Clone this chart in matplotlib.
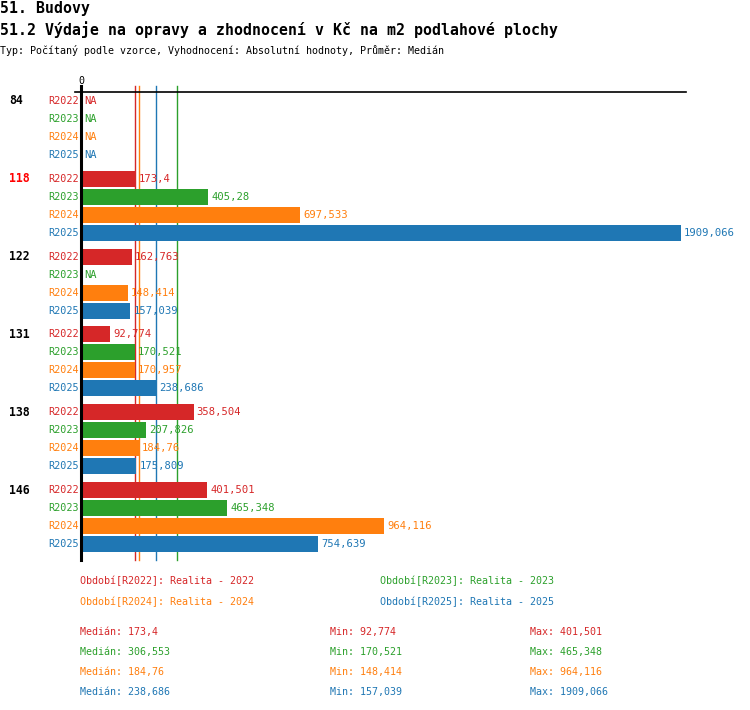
import numpy as np
import matplotlib
matplotlib.use("Agg")
import matplotlib.pyplot as plt

plt.rcParams['font.family'] = ['DejaVu Sans Mono']

# data
groups = ["84", "118", "122", "131", "138", "146"]
periods = ["R2022", "R2023", "R2024", "R2025"]
period_names = ["Realita - 2022", "Realita - 2023", "Realita - 2024", "Realita - 2025"]
colors = ["#d62728", "#2ca02c", "#ff7f0e", "#1f77b4"]
highlight = "118"

r2022 = [None, 173.4, 162.763, 92.774, 358.504, 401.501]
r2023 = [None, 405.28, None, 170.521, 207.826, 465.348]
r2024 = [None, 697.533, 148.414, 170.957, 184.76, 964.116]
r2025 = [None, 1909.066, 157.039, 238.686, 175.809, 754.639]
series = [r2022, r2023, r2024, r2025]

W, H = 750, 710
x0_px, xmax_px = 81, 681
vmax = max(v for s in series for v in s if v is not None)
scale = (xmax_px - x0_px) / vmax


def px2v(px):
    return (px - x0_px) / scale


def fmt(v):
    s = ("%.3f" % v).rstrip("0").rstrip(".")
    return s.replace(".", ",")


fig = plt.figure(figsize=(W / 100, H / 100), dpi=100)
ax = fig.add_axes([0, 0, 1, 1])
ax.set_xlim(px2v(0), px2v(W))
ax.set_ylim(H, 0)
ax.axis("off")

# titles
ax.text(px2v(0), 8, "51. Budovy", fontsize=10.7, fontweight="bold", va="center", ha="left")
ax.text(px2v(0), 30, "51.2 Výdaje na opravy a zhodnocení v Kč na m2 podlahové plochy",
        fontsize=10.75, fontweight="bold", va="center", ha="left")
ax.text(px2v(0), 50, "Typ: Počítaný podle vzorce, Vyhodnocení: Absolutní hodnoty, Průměr: Medián",
        fontsize=7.2, va="center", ha="left")

ax.text(0, 81, "0", fontsize=7.2, va="center", ha="center")

# axes lines
ax.plot([px2v(75), px2v(686)], [92, 92], color="black", lw=1.2)
ax.plot([0, 0], [86, 560], color="black", lw=2.2, zorder=5)

# medians
stats = []
for s in series:
    vals = np.array([v for v in s if v is not None])
    stats.append((np.median(vals), vals.min(), vals.max()))
for (med, mn, mx), c in zip(stats, colors):
    ax.plot([med, med], [86, 560], color=c, lw=1, zorder=1)

# bars
y_first = 101
g_pitch = 77.8
r_pitch = 18
for gi, g in enumerate(groups):
    gy = y_first + gi * g_pitch
    ax.text(px2v(9), gy, g, fontsize=8.3, fontweight="bold", va="center", ha="left",
            color="#ff0000" if g == highlight else "black")
    for si, s in enumerate(series):
        y = gy + si * r_pitch
        c = colors[si]
        ax.text(px2v(79), y, periods[si], fontsize=7.3, color=c, va="center", ha="right")
        v = s[gi]
        if v is None:
            ax.text(px2v(84), y, "NA", fontsize=7.5, color=c, va="center", ha="left")
        else:
            ax.barh(y, v, height=16, left=0, color=c, zorder=2)
            ax.text(v + px2v(84), y, fmt(v), fontsize=7.6, color=c, va="center", ha="left")

# legend
leg_pos = [(80, 581), (380, 581), (80, 602), (380, 602)]
for (lx, ly), p, n, c in zip(leg_pos, periods, period_names, colors):
    ax.text(px2v(lx), ly, "Období[%s]: %s" % (p, n), fontsize=7.2, color=c, va="center", ha="left")

for si, ((med, mn, mx), c) in enumerate(zip(stats, colors)):
    y = 632 + si * 20
    ax.text(px2v(80), y, "Medián: " + fmt(med), fontsize=7.2, color=c, va="center", ha="left")
    ax.text(px2v(330), y, "Min: " + fmt(mn), fontsize=7.2, color=c, va="center", ha="left")
    ax.text(px2v(530), y, "Max: " + fmt(mx), fontsize=7.2, color=c, va="center", ha="left")

fig.savefig("out.png", dpi=100)
